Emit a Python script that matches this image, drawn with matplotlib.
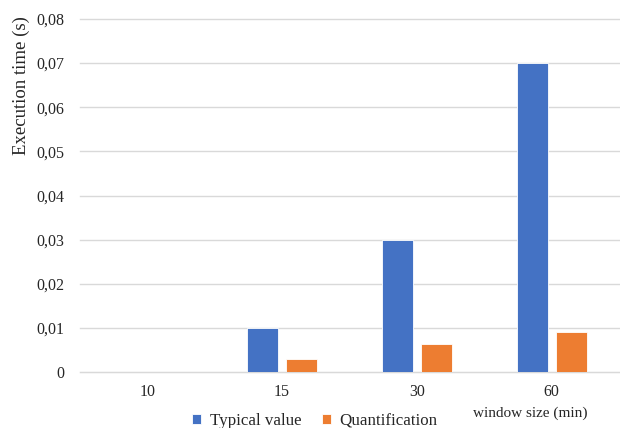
import matplotlib.pyplot as plt
import numpy as np

WINDOW_SIZES = ['10', '15', '30', '60']
TYPICAL_VALUE = [0.0, 0.010, 0.030, 0.070]
QUANTIFICATION = [0.0, 0.0029, 0.0064, 0.0091]
Y_TICKS = [0.0, 0.01, 0.02, 0.03, 0.04, 0.05, 0.06, 0.07, 0.08]

BLUE = '#4472C4'
ORANGE = '#ED7D31'
GRID = '#D9D9D9'
TEXT = '#262626'


def fmt(v):
    return '0' if v == 0 else '{:.2f}'.format(v).replace('.', ',')


def main():
    plt.rcParams['font.family'] = ['Liberation Serif', 'DejaVu Serif']

    fig = plt.figure(figsize=(6.2, 4.28), dpi=100)
    ax = fig.add_axes([80 / 620, 56 / 428, 539 / 620, 353 / 428])

    x = np.arange(len(WINDOW_SIZES))
    w = 0.23
    off = 0.145
    ax.bar(x - off, TYPICAL_VALUE, w, color=BLUE, edgecolor='white',
           linewidth=0.6, label='Typical value', zorder=3)
    ax.bar(x + off, QUANTIFICATION, w, color=ORANGE, edgecolor='white',
           linewidth=0.6, label='Quantification', zorder=3)

    ax.set_xlim(-0.5, len(WINDOW_SIZES) - 0.5)
    ax.set_ylim(0, 0.08)
    ax.set_yticks(Y_TICKS)
    ax.set_yticklabels([fmt(v) for v in Y_TICKS], fontsize=11.5, color=TEXT)
    ax.set_xticks(x)
    ax.set_xticklabels(WINDOW_SIZES, fontsize=11.5, color=TEXT)
    ax.tick_params(length=0)
    ax.tick_params(axis='y', pad=11)
    ax.tick_params(axis='x', pad=9)

    for s in ['top', 'right', 'left']:
        ax.spines[s].set_visible(False)
    ax.spines['bottom'].set_color(GRID)
    ax.yaxis.grid(True, color=GRID, linewidth=1, zorder=0)
    for line in ax.get_ygridlines():
        line.set_clip_on(False)
    ax.set_axisbelow(True)

    fig.text(21 / 620, 1 - 86 / 428, 'Execution time (s)', rotation=90,
             ha='center', va='center', fontsize=13.5, color=TEXT)

    fig.legend(loc='center', bbox_to_anchor=(315 / 620, 1 - 421 / 428),
               ncol=2, frameon=False, fontsize=12.2, handlelength=0.55,
               handleheight=0.55, handletextpad=0.5, columnspacing=1.2,
               borderaxespad=0, labelcolor=TEXT)

    fig.text(530 / 620, 1 - 413 / 428, 'window size (min)', ha='center',
             va='center', fontsize=11, color=TEXT)

    fig.savefig('out.png', dpi=100)


if __name__ == '__main__':
    main()
